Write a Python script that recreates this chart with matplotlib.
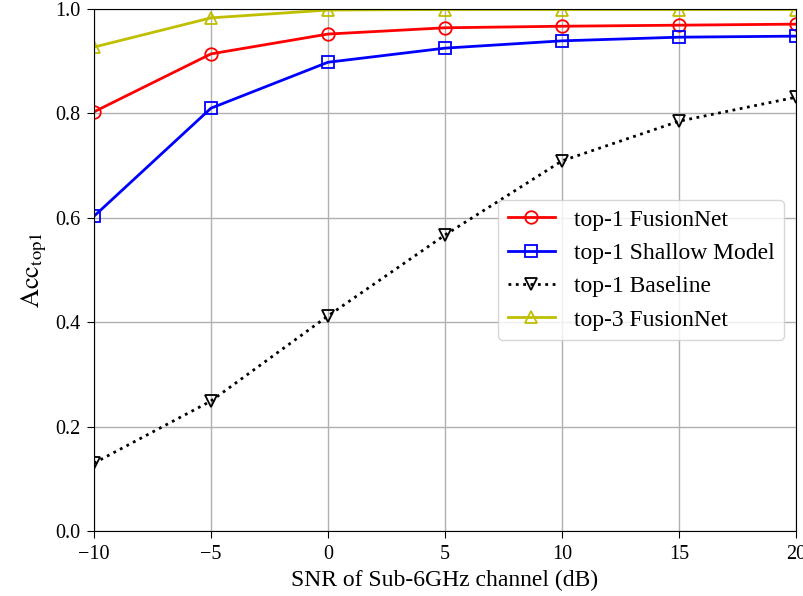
import matplotlib
matplotlib.use('Agg')
import matplotlib.pyplot as plt

plt.rcParams['font.family'] = ['Liberation Serif', 'DejaVu Serif']
plt.rcParams['mathtext.fontset'] = 'stix'

snr = [-10, -5, 0, 5, 10, 15, 20]
fusion_top1 = [0.803, 0.914, 0.952, 0.964, 0.967, 0.969, 0.971]
shallow_top1 = [0.603, 0.810, 0.898, 0.925, 0.939, 0.946, 0.948]
baseline_top1 = [0.130, 0.249, 0.412, 0.567, 0.709, 0.785, 0.831]
fusion_top3 = [0.927, 0.983, 0.998, 0.999, 0.999, 0.999, 0.999]

fig = plt.figure(figsize=(8.04, 5.96), dpi=100)
ax = fig.add_axes([0.1169, 0.1091, 0.8731, 0.8758])

ax.plot(snr, fusion_top1, 'r-o', lw=2, ms=9, mfc='none', mew=1.3, label='top-1 FusionNet')
ax.plot(snr, shallow_top1, 'b-s', lw=2, ms=8, mfc='none', mew=1.3, label='top-1 Shallow Model')
ax.plot(snr, baseline_top1, 'k:v', lw=2, ms=8, mfc='none', mew=1.3, label='top-1 Baseline')
ax.plot(snr, fusion_top3, 'y-^', lw=2, ms=8, mfc='none', mew=1.3, label='top-3 FusionNet')

ax.set_xlim(-10, 20)
ax.set_ylim(0, 1.0)
ax.set_xticks(snr)
ax.set_yticks([0.0, 0.2, 0.4, 0.6, 0.8, 1.0])
ax.tick_params(labelsize=14.5, length=5, pad=5)
ax.grid(True, color='#b0b0b0', lw=1)
ax.set_xlabel('SNR of Sub-6GHz channel (dB)', fontsize=17)
ax.set_ylabel(r'$\mathrm{Acc}_{\mathrm{top1}}$', fontsize=19)
ax.legend(loc='center right', fontsize=17)

fig.savefig('out.png', dpi=100)
